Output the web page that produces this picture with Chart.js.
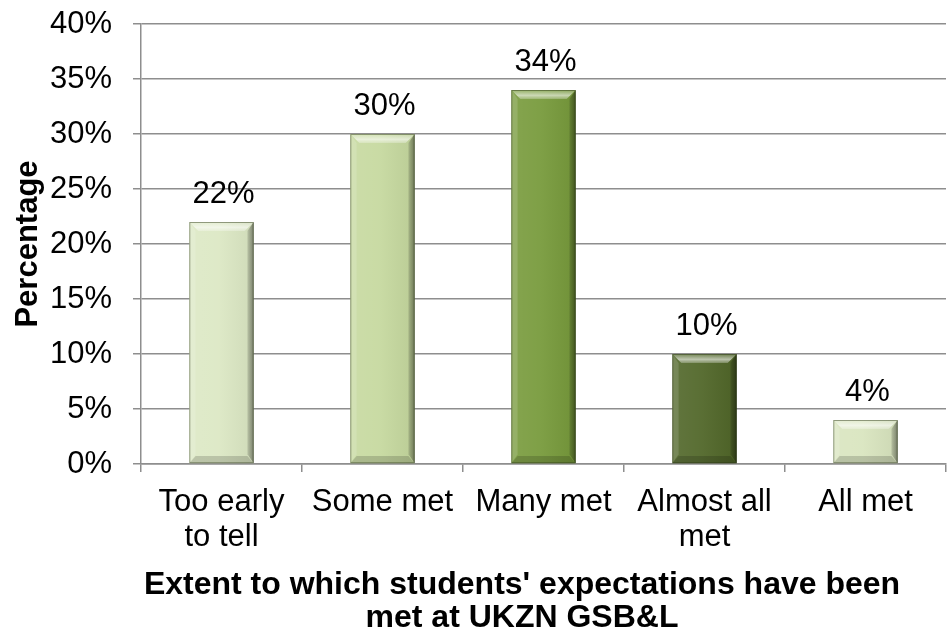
<!DOCTYPE html>
<html>
<head>
<meta charset="utf-8">
<script src="https://cdn.jsdelivr.net/npm/chart.js@4/dist/chart.umd.min.js"></script>
<style>
  html, body { margin: 0; padding: 0; background: #ffffff; }
  #wrap { width: 947px; height: 634px; }
</style>
</head>
<body>
<div id="wrap"><canvas id="chart" width="947" height="634"></canvas></div>
<script>
// Survey responses: how far students' expectations have been met
const categories = [['Too early', 'to tell'], 'Some met', 'Many met', ['Almost all', 'met'], 'All met'];
const percentages = [22, 30, 34, 10, 4];
const barColors = ['#dce8c4', '#c6d99f', '#779a3b', '#506628', '#d9e5bf'];
const yAxisTitle = 'Percentage';
const xAxisTitleLines = ["Extent to which students' expectations have been", 'met at UKZN GSB&L'];

const FONT = "'Liberation Sans', Arial, sans-serif";
const GRID = '#8e8e8e';

// Bevelled look for each bar: light top edge, darker right and bottom edges
const bevelPlugin = {
  id: 'bevel',
  afterDatasetsDraw(chart) {
    const ctx = chart.ctx;
    const meta = chart.getDatasetMeta(0);
    meta.data.forEach((bar) => {
      const w = bar.width;
      const x0 = bar.x - w / 2, x1 = bar.x + w / 2;
      const y0 = Math.min(bar.y, bar.base), y1 = Math.max(bar.y, bar.base);
      const h = y1 - y0;
      const b = Math.min(9, h / 2.5);
      ctx.save();
      // inner soft vertical shading
      const g = ctx.createLinearGradient(x0, 0, x1, 0);
      g.addColorStop(0, 'rgba(255,255,255,0.10)');
      g.addColorStop(0.45, 'rgba(255,255,255,0.06)');
      g.addColorStop(1, 'rgba(0,0,0,0.06)');
      ctx.fillStyle = g;
      ctx.fillRect(x0, y0, w, h);
      // top edge
      ctx.beginPath();
      ctx.moveTo(x0, y0); ctx.lineTo(x1, y0); ctx.lineTo(x1 - b, y0 + b); ctx.lineTo(x0 + b, y0 + b); ctx.closePath();
      const gt = ctx.createLinearGradient(0, y0, 0, y0 + b);
      gt.addColorStop(0, 'rgba(255,255,255,0.15)');
      gt.addColorStop(0.6, 'rgba(255,255,255,0.6)');
      gt.addColorStop(1, 'rgba(255,255,255,0.25)');
      ctx.fillStyle = gt;
      ctx.fill();
      // left edge
      ctx.beginPath();
      ctx.moveTo(x0, y0); ctx.lineTo(x0 + b * 0.7, y0 + b); ctx.lineTo(x0 + b * 0.7, y1 - b); ctx.lineTo(x0, y1); ctx.closePath();
      ctx.fillStyle = 'rgba(255,255,255,0.14)';
      ctx.fill();
      // right edge
      ctx.beginPath();
      ctx.moveTo(x1, y0); ctx.lineTo(x1 - b * 0.7, y0 + b); ctx.lineTo(x1 - b * 0.7, y1 - b); ctx.lineTo(x1, y1); ctx.closePath();
      const gr = ctx.createLinearGradient(x1 - b * 0.7, 0, x1, 0);
      gr.addColorStop(0, 'rgba(0,0,0,0.12)');
      gr.addColorStop(1, 'rgba(0,0,0,0.42)');
      ctx.fillStyle = gr;
      ctx.fill();
      // bottom edge
      ctx.beginPath();
      ctx.moveTo(x0, y1); ctx.lineTo(x0 + b * 0.7, y1 - b * 0.8); ctx.lineTo(x1 - b * 0.7, y1 - b * 0.8); ctx.lineTo(x1, y1); ctx.closePath();
      ctx.fillStyle = 'rgba(0,0,0,0.16)';
      ctx.fill();
      // outline
      ctx.strokeStyle = 'rgba(40,50,20,0.45)';
      ctx.lineWidth = 1;
      ctx.strokeRect(x0 + 0.5, y0 + 0.5, w - 1, h - 1);
      ctx.restore();
    });
  }
};

// Value labels above bars and the two-line x axis title
const labelPlugin = {
  id: 'valueLabels',
  afterDraw(chart) {
    const ctx = chart.ctx;
    const meta = chart.getDatasetMeta(0);
    ctx.save();
    ctx.fillStyle = '#000000';
    ctx.font = '31px ' + FONT;
    ctx.textAlign = 'center';
    ctx.textBaseline = 'alphabetic';
    meta.data.forEach((bar, i) => {
      ctx.fillText(percentages[i] + '%', bar.x + 2, bar.y - 19);
    });
    ctx.font = 'bold 32px ' + FONT;
    const cx = chart.chartArea.left + 381;
    xAxisTitleLines.forEach((line, k) => {
      ctx.fillText(line, cx, chart.chartArea.bottom + 130 + k * 33);
    });
    ctx.restore();
  }
};

new Chart(document.getElementById('chart'), {
  type: 'bar',
  data: {
    labels: categories,
    datasets: [{
      data: percentages,
      backgroundColor: barColors,
      borderWidth: 0,
      barPercentage: 0.4,
      categoryPercentage: 1.0
    }]
  },
  options: {
    responsive: false,
    animation: false,
    events: [],
    layout: { padding: { top: 24, right: 1, left: 0, bottom: 0 } },
    plugins: { legend: { display: false }, tooltip: { enabled: false } },
    scales: {
      x: {
        offset: true,
        grid: { display: true, drawOnChartArea: false, drawTicks: true, tickLength: 8, color: GRID, lineWidth: 1.5, offset: true },
        border: { display: true, color: GRID, width: 1.5 },
        ticks: { color: '#000000', font: { family: FONT, size: 31, lineHeight: 1.16 }, padding: 12, maxRotation: 0, autoSkip: false },
        afterFit(scale) { scale.height = 170; scale.paddingLeft = 0; scale.paddingRight = 0; }
      },
      y: {
        min: 0,
        max: 40,
        grid: { color: GRID, lineWidth: 1.5, tickLength: 8, drawTicks: true },
        border: { display: true, color: GRID, width: 1.5 },
        ticks: { stepSize: 5, color: '#000000', font: { family: FONT, size: 31 }, padding: 21, callback: (v) => v + '%' },
        title: { display: true, text: yAxisTitle, color: '#000000', font: { family: FONT, size: 31, weight: 'bold', lineHeight: 1.2 }, padding: { top: 10, bottom: 0 } },
        afterFit(scale) { scale.width = 141; scale.paddingTop = 0; scale.paddingBottom = 0; }
      }
    }
  },
  plugins: [bevelPlugin, labelPlugin]
});
</script>
</body>
</html>
